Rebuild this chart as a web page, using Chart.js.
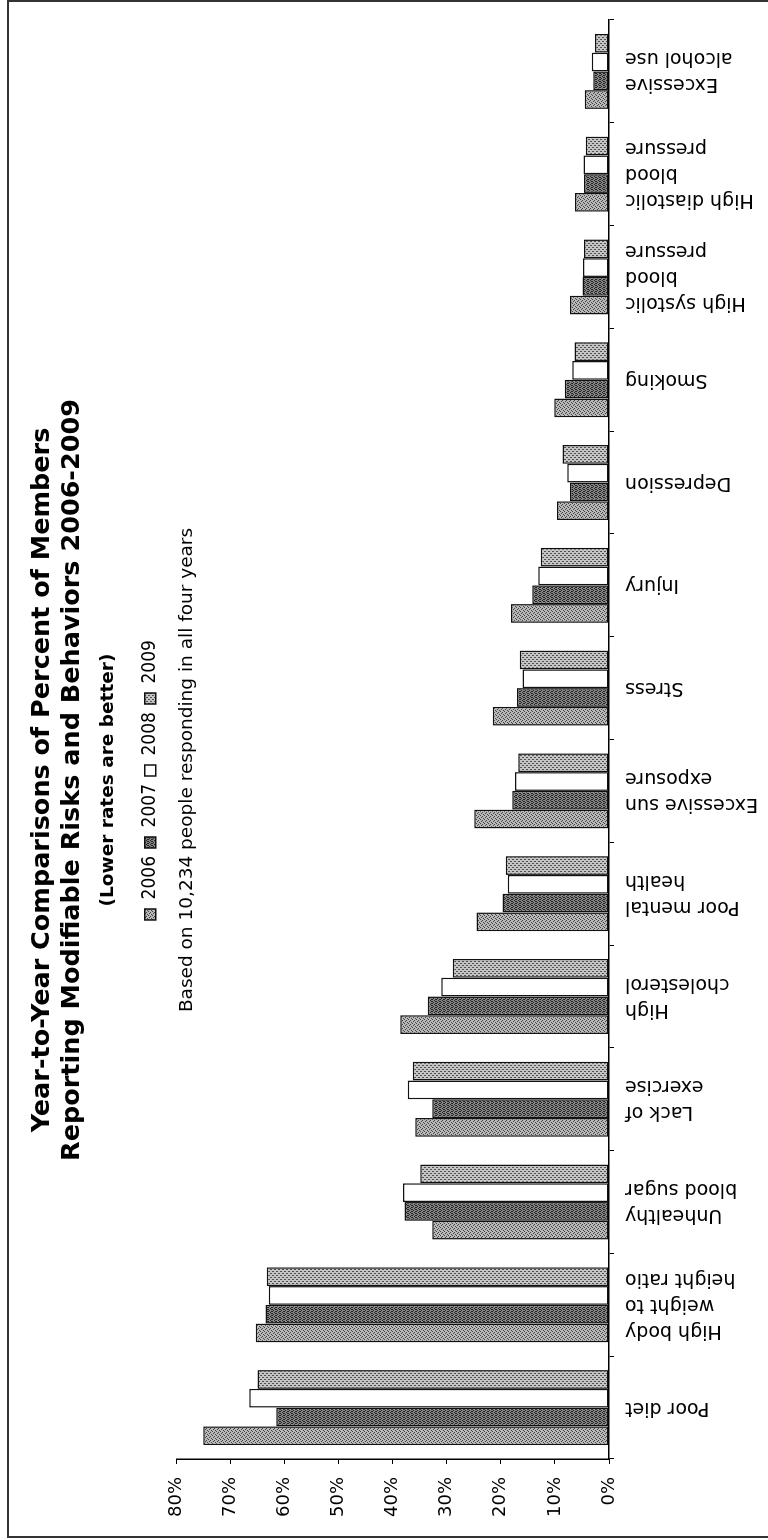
<!DOCTYPE html>
<html>
<head>
<meta charset="utf-8">
<script src="https://cdn.jsdelivr.net/npm/chart.js@4.4.0/dist/chart.umd.min.js"></script>
<style>
  html, body { margin: 0; padding: 0; background: #fff; overflow: hidden; width: 768px; height: 1540px; }
  #frame { position: absolute; left: 7px; top: 0; width: 790px; height: 1538px; border: 2px solid #333; box-sizing: border-box; }
  /* the scanned page is turned on its side: draw landscape, then rotate */
  #wrap { position: absolute; left: 0; top: 0; width: 1540px; height: 768px; transform-origin: 0 0; transform: translate(0, 1540px) rotate(-90deg); }
</style>
</head>
<body>
<div id="frame"></div>
<div id="wrap"><canvas id="chart" width="1540" height="768"></canvas></div>
<script>
const categories = [
    ['Poor diet'],
    ['High body', 'weight to', 'height ratio'],
    ['Unhealthy', 'blood sugar'],
    ['Lack of', 'exercise'],
    ['High', 'cholesterol'],
    ['Poor mental', 'health'],
    ['Excessive sun', 'exposure'],
    ['Stress'],
    ['Injury'],
    ['Depression'],
    ['Smoking'],
    ['High systolic', 'blood', 'pressure'],
    ['High diastolic', 'blood', 'pressure'],
    ['Excessive', 'alcohol use']
];
const years = ['2006', '2007', '2008', '2009'];
const values2006 = [75, 65.3, 32.7, 35.8, 38.6, 24.5, 24.9, 21.5, 18.1, 9.6, 10.1, 7.2, 6.3, 4.5];
const values2007 = [61.5, 63.5, 37.8, 32.7, 33.5, 19.7, 17.9, 17.0, 14.2, 7.2, 8.2, 4.9, 4.6, 2.9];
const values2008 = [66.5, 62.9, 38.1, 37.2, 31.0, 18.7, 17.4, 16.0, 13.1, 7.7, 6.8, 4.8, 4.7, 3.2];
const values2009 = [65, 63.3, 34.9, 36.3, 28.9, 19.1, 16.8, 16.5, 12.6, 8.6, 6.4, 4.6, 4.3, 2.6];
const yMin = 0, yMax = 80, yStep = 10;
const titleLines = [
    'Year-to-Year Comparisons of Percent of Members',
    'Reporting Modifiable Risks and Behaviors 2006-2009'
];
const subtitleText = '(Lower rates are better)';
const noteText = 'Based on 10,234 people responding in all four years';

// small stipple tiles, a rough stand-in for the halftone fills
function stipple(bg, fg, dots) {
    const c = document.createElement('canvas');
    c.width = 4; c.height = 4;
    const g = c.getContext('2d');
    g.fillStyle = bg;
    g.fillRect(0, 0, 4, 4);
    g.fillStyle = fg;
    dots.forEach(([x, y]) => g.fillRect(x, y, 1, 1));
    return g.createPattern(c, 'repeat');
}
const fills = [
    stipple('#b8b8b8', '#444444', [[0, 0], [2, 1], [1, 3], [3, 2]]),
    stipple('#858585', '#222222', [[0, 0], [2, 0], [1, 1], [3, 2], [0, 3], [2, 3]]),
    '#ffffff',
    stipple('#c4c4c4', '#505050', [[0, 0], [0, 1], [2, 2], [2, 3]])
];
const series = [values2006, values2007, values2008, values2009];

Chart.defaults.font.family = "'DejaVu Sans', Verdana, sans-serif";
Chart.defaults.color = '#000';

// push the plot a little further below the legend
const legendGap = {
    id: 'legendGap',
    beforeInit(chart) {
        const fit = chart.legend.fit;
        chart.legend.fit = function () {
            fit.call(this);
            this.height += 6.5;
        };
    }
};

// category labels: vertical, lines centred on the tick, ending near the axis
const categoryLabels = {
    id: 'categoryLabels',
    afterDraw(chart) {
        const ctx = chart.ctx;
        const xs = chart.scales.x;
        const lh = 26;
        ctx.save();
        ctx.font = "19px 'DejaVu Sans'";
        ctx.fillStyle = '#000';
        ctx.textAlign = 'right';
        ctx.textBaseline = 'middle';
        categories.forEach((lines, i) => {
            const x = xs.getPixelForTick(i);
            lines.forEach((line, j) => {
                ctx.save();
                ctx.translate(x + (j - (lines.length - 1) / 2) * lh, xs.top + 16);
                ctx.rotate(-Math.PI / 2);
                ctx.fillText(line, 0, 0);
                ctx.restore();
            });
        });
        ctx.restore();
    }
};

const note = {
    id: 'note',
    afterDraw(chart) {
        const ctx = chart.ctx;
        ctx.save();
        ctx.font = "18.5px 'DejaVu Sans'";
        ctx.fillStyle = '#000';
        ctx.textAlign = 'center';
        ctx.textBaseline = 'middle';
        ctx.fillText(noteText, chart.width / 2, chart.chartArea.top + 11);
        ctx.restore();
    }
};

new Chart(document.getElementById('chart'), {
    type: 'bar',
    data: {
        labels: categories,
        datasets: years.map((y, i) => ({
            label: y,
            data: series[i],
            backgroundColor: fills[i],
            borderColor: '#111',
            borderWidth: 1.5,
            borderSkipped: false,
            categoryPercentage: 0.73,
            barPercentage: 1
        }))
    },
    options: {
        responsive: false,
        animation: false,
        layout: { padding: { left: 0, right: 20, top: 0, bottom: 0 } },
        plugins: {
            title: {
                display: true,
                text: titleLines,
                color: '#000',
                font: { size: 25.5, weight: 'bold', lineHeight: 30.5 / 25.5 },
                padding: { top: 26.75, bottom: 0 }
            },
            subtitle: {
                display: true,
                text: subtitleText,
                color: '#000',
                font: { size: 18.5, weight: 'bold', lineHeight: 1.2 },
                padding: { top: 9.15, bottom: 13.7 }
            },
            legend: {
                labels: {
                    boxWidth: 11,
                    boxHeight: 11,
                    padding: 8,
                    color: '#000',
                    font: { family: "'Liberation Sans Narrow', 'DejaVu Sans Condensed', sans-serif", size: 19 }
                }
            },
            tooltip: { enabled: false }
        },
        scales: {
            x: {
                grid: { display: true, drawOnChartArea: false, tickLength: 5, color: '#000' },
                border: { color: '#000', width: 1.5 },
                ticks: { display: false },
                afterFit: (s) => { s.height = 159; }
            },
            y: {
                min: yMin,
                max: yMax,
                ticks: {
                    stepSize: yStep,
                    padding: 13,
                    color: '#000',
                    font: { size: 18 },
                    callback: (v) => v + '%'
                },
                grid: { display: true, drawOnChartArea: false, tickLength: 5, color: '#000' },
                border: { color: '#000', width: 1.5 },
                afterFit: (s) => { s.width = 81; }
            }
        }
    },
    plugins: [legendGap, categoryLabels, note]
});
</script>
</body>
</html>
